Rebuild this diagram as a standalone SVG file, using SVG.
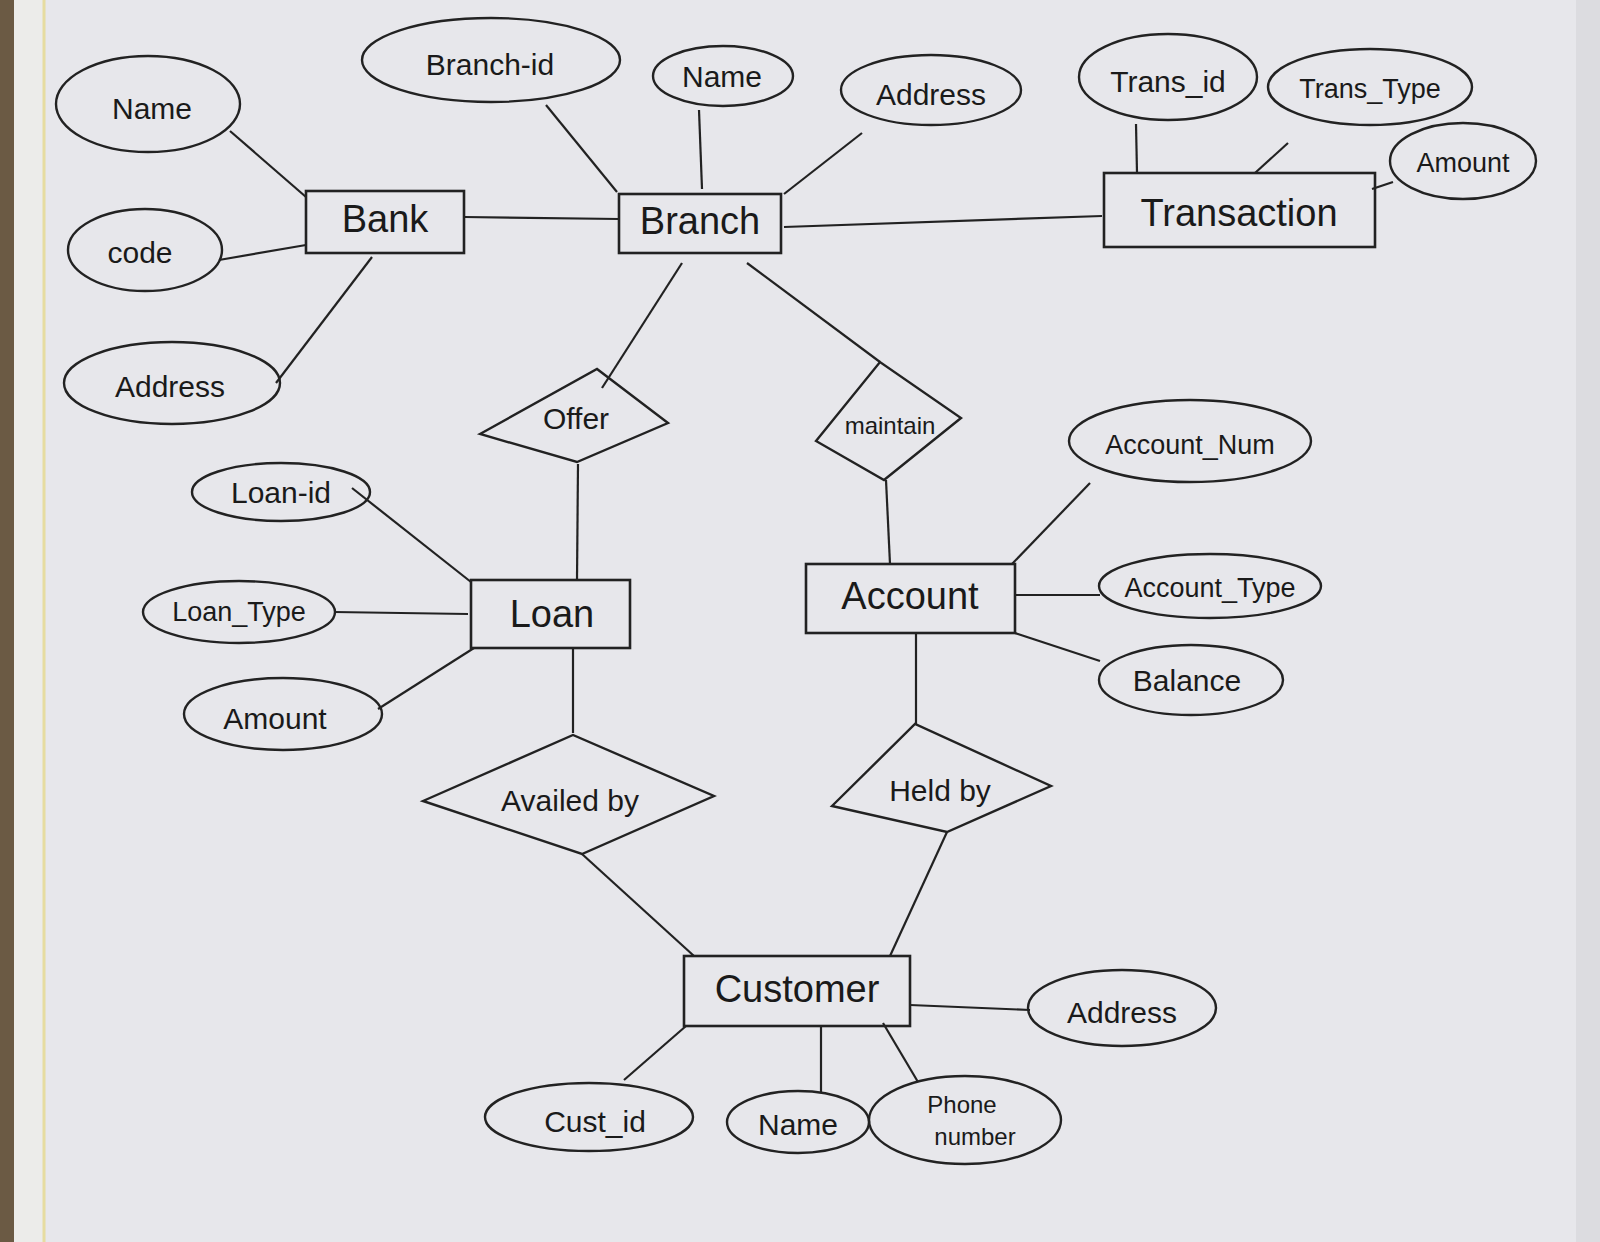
<svg xmlns="http://www.w3.org/2000/svg" width="1600" height="1242" viewBox="0 0 1600 1242">
<style>
.ent{fill:none;stroke:#222;stroke-width:2.6}
.att{fill:none;stroke:#222;stroke-width:2.4}
.rel{fill:none;stroke:#222;stroke-width:2.4}
.ln{stroke:#222;stroke-width:2.2;fill:none}
text{font-family:"Liberation Sans","DejaVu Sans",sans-serif;fill:#1a1a1a;text-anchor:middle;dominant-baseline:central}
.te{font-size:38px}
.ta{font-size:30px}
.tm{font-size:27px}
.ts{font-size:24px}
</style>
<rect x="0" y="0" width="1600" height="1242" fill="#e7e7eb"/>
<rect x="0" y="0" width="14" height="1242" fill="#6b5a44"/>
<rect x="14" y="0" width="30" height="1242" fill="#ececea"/>
<line x1="44" y1="0" x2="44" y2="1242" stroke="#e6dca0" stroke-width="3"/>
<rect x="1576" y="0" width="24" height="1242" fill="#dcdce0"/>

<g id="connectors">
<line class="ln" x1="230" y1="131" x2="306" y2="197"/>
<line class="ln" x1="219" y1="260" x2="306" y2="245"/>
<line class="ln" x1="276" y1="383" x2="372" y2="257"/>
<line class="ln" x1="464" y1="217" x2="619" y2="219"/>
<line class="ln" x1="546" y1="105" x2="617" y2="192"/>
<line class="ln" x1="699" y1="110" x2="702" y2="189"/>
<line class="ln" x1="862" y1="133" x2="784" y2="194"/>
<line class="ln" x1="784" y1="227" x2="1102" y2="216"/>
<line class="ln" x1="1136" y1="124" x2="1137" y2="173"/>
<line class="ln" x1="1288" y1="143" x2="1255" y2="173"/>
<line class="ln" x1="1393" y1="182" x2="1372" y2="189"/>
<line class="ln" x1="682" y1="263" x2="602" y2="388"/>
<line class="ln" x1="747" y1="263" x2="880" y2="362"/>
<line class="ln" x1="578" y1="464" x2="577" y2="580"/>
<line class="ln" x1="886" y1="480" x2="890" y2="564"/>
<line class="ln" x1="352" y1="488" x2="471" y2="582"/>
<line class="ln" x1="334" y1="612" x2="468" y2="614"/>
<line class="ln" x1="378" y1="709" x2="474" y2="648"/>
<line class="ln" x1="573" y1="648" x2="573" y2="733"/>
<line class="ln" x1="1090" y1="483" x2="1012" y2="564"/>
<line class="ln" x1="1015" y1="595" x2="1100" y2="595"/>
<line class="ln" x1="1015" y1="633" x2="1100" y2="661"/>
<line class="ln" x1="916" y1="633" x2="916" y2="724"/>
<line class="ln" x1="582" y1="854" x2="694" y2="956"/>
<line class="ln" x1="947" y1="832" x2="890" y2="956"/>
<line class="ln" x1="910" y1="1005" x2="1030" y2="1010"/>
<line class="ln" x1="686" y1="1026" x2="624" y2="1080"/>
<line class="ln" x1="821" y1="1026" x2="821" y2="1092"/>
<line class="ln" x1="883" y1="1023" x2="918" y2="1082"/>
</g>

<g id="bank"><rect class="ent" x="306" y="191" width="158" height="62"/><text class="te" x="385" y="219">Bank</text></g>
<g id="branch"><rect class="ent" x="619" y="194" width="162" height="59"/><text class="te" x="700" y="221">Branch</text></g>
<g id="transaction"><rect class="ent" x="1104" y="173" width="271" height="74"/><text class="te" x="1239" y="213">Transaction</text></g>
<g id="loan"><rect class="ent" x="471" y="580" width="159" height="68"/><text class="te" x="552" y="614">Loan</text></g>
<g id="account"><rect class="ent" x="806" y="564" width="209" height="69"/><text class="te" x="910" y="596">Account</text></g>
<g id="customer"><rect class="ent" x="684" y="956" width="226" height="70"/><text class="te" x="797" y="989">Customer</text></g>

<g id="bank-name"><ellipse class="att" cx="148" cy="104" rx="92" ry="48"/><text class="ta" x="152" y="108">Name</text></g>
<g id="bank-code"><ellipse class="att" cx="145" cy="250" rx="77" ry="41"/><text class="ta" x="140" y="252">code</text></g>
<g id="bank-address"><ellipse class="att" cx="172" cy="383" rx="108" ry="41"/><text class="ta" x="170" y="386">Address</text></g>
<g id="branch-id"><ellipse class="att" cx="491" cy="60" rx="129" ry="42"/><text class="ta" x="490" y="64">Branch-id</text></g>
<g id="branch-name"><ellipse class="att" cx="723" cy="76" rx="70" ry="30"/><text class="ta" x="722" y="76">Name</text></g>
<g id="branch-address"><ellipse class="att" cx="931" cy="90" rx="90" ry="35"/><text class="ta" x="931" y="94">Address</text></g>
<g id="trans-id"><ellipse class="att" cx="1168" cy="77" rx="89" ry="43"/><text class="ta" x="1168" y="81">Trans_id</text></g>
<g id="trans-type"><ellipse class="att" cx="1370" cy="87" rx="102" ry="38"/><text class="tm" x="1370" y="89">Trans_Type</text></g>
<g id="trans-amount"><ellipse class="att" cx="1463" cy="161" rx="73" ry="38"/><text class="tm" x="1463" y="163">Amount</text></g>
<g id="loan-id"><ellipse class="att" cx="281" cy="492" rx="89" ry="29"/><text class="ta" x="281" y="492">Loan-id</text></g>
<g id="loan-type"><ellipse class="att" cx="239" cy="612" rx="96" ry="31"/><text class="tm" x="239" y="612">Loan_Type</text></g>
<g id="loan-amount"><ellipse class="att" cx="283" cy="714" rx="99" ry="36"/><text class="ta" x="275" y="718">Amount</text></g>
<g id="account-num"><ellipse class="att" cx="1190" cy="441" rx="121" ry="41"/><text class="tm" x="1190" y="445">Account_Num</text></g>
<g id="account-type"><ellipse class="att" cx="1210" cy="586" rx="111" ry="32"/><text class="tm" x="1210" y="588">Account_Type</text></g>
<g id="balance"><ellipse class="att" cx="1191" cy="680" rx="92" ry="35"/><text class="ta" x="1187" y="680">Balance</text></g>
<g id="cust-address"><ellipse class="att" cx="1122" cy="1008" rx="94" ry="38"/><text class="ta" x="1122" y="1012">Address</text></g>
<g id="cust-id"><ellipse class="att" cx="589" cy="1117" rx="104" ry="34"/><text class="ta" x="595" y="1121">Cust_id</text></g>
<g id="cust-name"><ellipse class="att" cx="798" cy="1122" rx="71" ry="31"/><text class="ta" x="798" y="1124">Name</text></g>
<g id="phone"><ellipse class="att" cx="965" cy="1120" rx="96" ry="44"/><text class="ts" x="962" y="1104">Phone</text><text class="ts" x="975" y="1136">number</text></g>

<g id="offer"><polygon class="rel" points="480,434 597,369 668,423 577,462"/><text class="ta" x="576" y="418">Offer</text></g>
<g id="maintain"><polygon class="rel" points="816,441 880,362 961,418 884,480"/><text class="ts" x="890" y="425">maintain</text></g>
<g id="availed-by"><polygon class="rel" points="423,801 573,735 714,796 582,854"/><text class="ta" x="570" y="800">Availed by</text></g>
<g id="held-by"><polygon class="rel" points="832,806 915,724 1051,786 947,832"/><text class="ta" x="940" y="790">Held by</text></g>
</svg>
